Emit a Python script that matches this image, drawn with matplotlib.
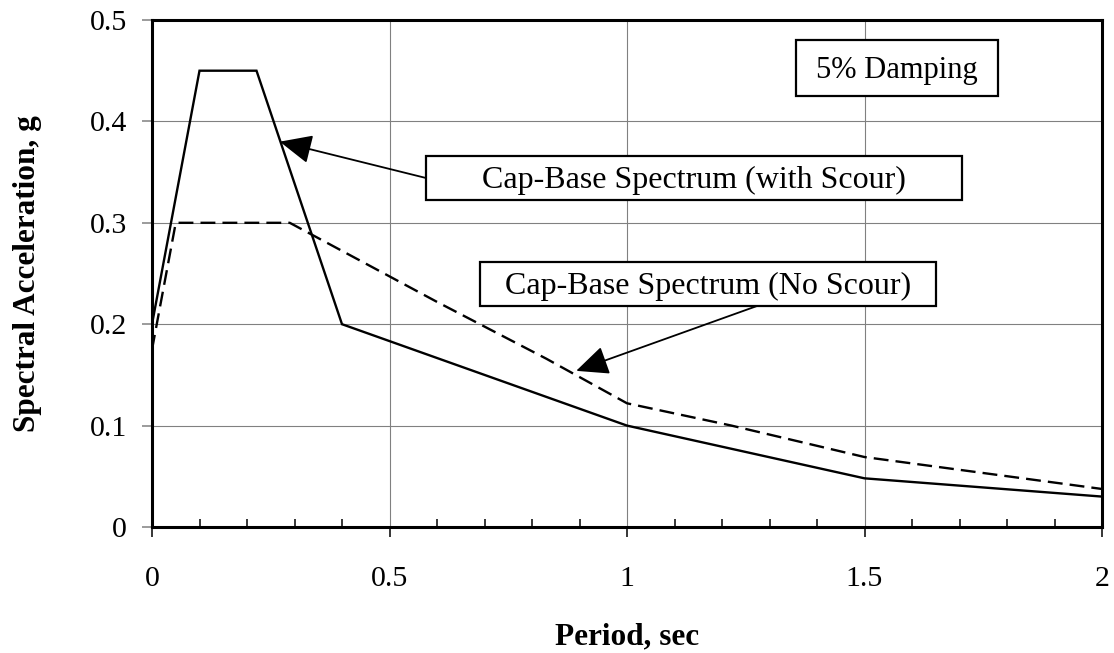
import matplotlib
matplotlib.use("Agg")
import matplotlib.pyplot as plt
from matplotlib.patches import Rectangle
from matplotlib.ticker import MultipleLocator

plt.rcParams['font.family'] = ['Liberation Serif', 'DejaVu Serif']

# Data
period_scour = [0.0, 0.1, 0.22, 0.4, 1.0, 1.5, 2.0]
sa_scour = [0.2, 0.45, 0.45, 0.2, 0.1, 0.048, 0.03]

period_noscour = [0.0, 0.05, 0.29, 0.6, 0.83, 1.0, 1.22, 1.5, 2.0]
sa_noscour = [0.175, 0.30, 0.30, 0.222, 0.166, 0.122, 0.10, 0.069, 0.0375]

x_ticks = [0, 0.5, 1, 1.5, 2]
x_tick_labels = ['0', '0.5', '1', '1.5', '2']
y_ticks = [0, 0.1, 0.2, 0.3, 0.4, 0.5]
y_tick_labels = ['0', '0.1', '0.2', '0.3', '0.4', '0.5']

label_scour = 'Cap-Base Spectrum (with Scour)'
label_noscour = 'Cap-Base Spectrum (No Scour)'
arrow_tip_scour = (0.269, 0.38)
arrow_tip_noscour = (0.893, 0.154)

fig = plt.figure(figsize=(11.14, 6.53), dpi=100)
ax = fig.add_axes([152/1114, (653-527)/653, 950/1114, 507/653])

ax.plot(period_scour, sa_scour, color='black', lw=1.7, solid_joinstyle='miter', zorder=3)
ax.plot(period_noscour, sa_noscour, color='black', lw=1.7, dashes=(6.3, 3.0), zorder=3)

ax.set_xlim(0, 2)
ax.set_ylim(0, 0.5)
ax.set_xticks(x_ticks)
ax.set_xticklabels(x_tick_labels)
ax.set_yticks(y_ticks)
ax.set_yticklabels(y_tick_labels)
ax.xaxis.set_minor_locator(MultipleLocator(0.1))

ax.grid(True, which='major', color='#808080', lw=0.8, zorder=1)
for s in ax.spines.values():
    s.set_linewidth(2.2)
    s.set_color('black')
    s.set_zorder(4)

ax.tick_params(axis='y', which='major', direction='out', length=7, width=1.1,
               color='#808080', labelsize=21.5, pad=11)
ax.tick_params(axis='x', which='major', direction='out', length=7, width=1.1,
               color='black', labelsize=21.5, pad=21)
ax.tick_params(axis='x', which='minor', direction='in', length=6, width=1.1,
               color='black')

ax.set_xlabel('Period, sec', fontsize=22.5, fontweight='bold')
ax.xaxis.label.set_va('center')
ax.xaxis.set_label_coords(0.5, (527-637)/507)
ax.set_ylabel('Spectral Acceleration, g', fontsize=22.5, fontweight='bold')
ax.yaxis.label.set_va('center')
ax.yaxis.set_label_coords((28-152)/950, 0.5)

def fx(px):
    return (px - 152) / 950

def fy(py):
    return (527 - py) / 507

def box(x0, x1, y0, y1, text, size=22):
    r = Rectangle((fx(x0), fy(y1)), fx(x1) - fx(x0), fy(y0) - fy(y1),
                  transform=ax.transAxes, facecolor='white', edgecolor='black',
                  lw=1.6, zorder=6)
    ax.add_patch(r)
    ax.text((fx(x0) + fx(x1)) / 2, (fy(y0) + fy(y1)) / 2 - 0.004, text,
            transform=ax.transAxes, ha='center', va='center', fontsize=size,
            zorder=7)

box(796, 998, 40, 96, '5% Damping')
box(426, 962, 156, 200, label_scour, size=23)
box(480, 936, 262, 306, label_noscour, size=23)

arrowprops = dict(arrowstyle='-|>,head_length=1.0,head_width=0.45',
                  mutation_scale=20, color='black', lw=1.3,
                  shrinkA=0, shrinkB=0)
ax.annotate('', xy=arrow_tip_scour, xycoords='data',
            xytext=(fx(426), fy(178)), textcoords='axes fraction',
            arrowprops=arrowprops, zorder=5)
ax.annotate('', xy=arrow_tip_noscour, xycoords='data',
            xytext=(fx(757), fy(306)), textcoords='axes fraction',
            arrowprops=arrowprops, zorder=5)

fig.savefig('out.png', dpi=100)
